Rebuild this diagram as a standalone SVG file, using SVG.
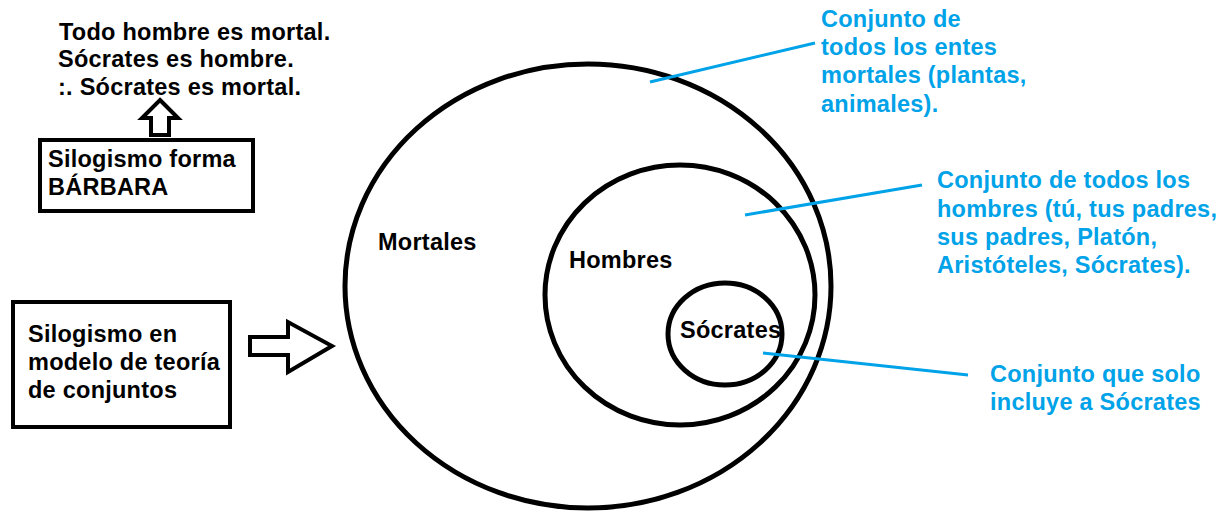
<svg xmlns="http://www.w3.org/2000/svg" width="1218" height="512" viewBox="0 0 1218 512">
<style>
text{font-family:"Liberation Sans",Arial,sans-serif;font-weight:bold;font-size:23.5px;letter-spacing:0.25px;}
.k{fill:#000;}
.b{fill:#00A2E8;}
.set{fill:none;stroke:#000;stroke-width:5;}
.box{fill:#fff;stroke:#000;stroke-width:4;}
.arr{fill:#fff;stroke:#000;stroke-width:4;stroke-linejoin:miter;}
.lead{stroke:#00A2E8;stroke-width:3;fill:none;}
</style>
<rect width="1218" height="512" fill="#fff"/>
<g id="syllogism">
<text class="k" x="59" y="40">Todo hombre es mortal.</text>
<text class="k" x="58" y="67">Sócrates es hombre.</text>
<text class="k" x="58" y="95">:. Sócrates es mortal.</text>
</g>
<g id="arrow-up">
<polygon class="arr" points="160,100 178,118 169,118 169,135 151,135 151,118 142,118"/>
</g>
<g id="box-barbara">
<rect class="box" x="40" y="140" width="213" height="71"/>
<text class="k" x="48" y="167">Silogismo forma</text>
<text class="k" x="48" y="195">BÁRBARA</text>
</g>
<g id="box-conjuntos">
<rect class="box" x="13" y="302" width="217" height="125"/>
<text class="k" x="28" y="342">Silogismo en</text>
<text class="k" x="28" y="370">modelo de teoría</text>
<text class="k" x="28" y="398">de conjuntos</text>
</g>
<g id="arrow-right">
<polygon class="arr" points="250,337 288,337 288,322 332,346 288,372 288,355 250,355"/>
</g>
<g id="mortales">
<ellipse class="set" cx="588" cy="286" rx="243" ry="222"/>
<text class="k" x="378" y="250">Mortales</text>
</g>
<g id="hombres">
<ellipse class="set" cx="680" cy="295" rx="135" ry="130"/>
<text class="k" x="569" y="268">Hombres</text>
</g>
<g id="socrates">
<ellipse class="set" cx="725" cy="334" rx="57" ry="51"/>
<text class="k" x="680" y="338">Sócrates</text>
</g>
<g id="connectors">
<line class="lead" x1="650" y1="82" x2="815" y2="43"/>
<line class="lead" x1="745" y1="215" x2="922" y2="185"/>
<line class="lead" x1="763" y1="353" x2="968" y2="375"/>
</g>
<g id="note-mortales">
<text class="b" x="821" y="27">Conjunto de</text>
<text class="b" x="821" y="55">todos los entes</text>
<text class="b" x="821" y="83">mortales (plantas,</text>
<text class="b" x="821" y="112">animales).</text>
</g>
<g id="note-hombres">
<text class="b" x="937" y="188">Conjunto de todos los</text>
<text class="b" x="937" y="217">hombres (tú, tus padres,</text>
<text class="b" x="937" y="245">sus padres, Platón,</text>
<text class="b" x="937" y="273">Aristóteles, Sócrates).</text>
</g>
<g id="note-socrates">
<text class="b" x="990" y="382">Conjunto que solo</text>
<text class="b" x="990" y="410">incluye a Sócrates</text>
</g>
</svg>
